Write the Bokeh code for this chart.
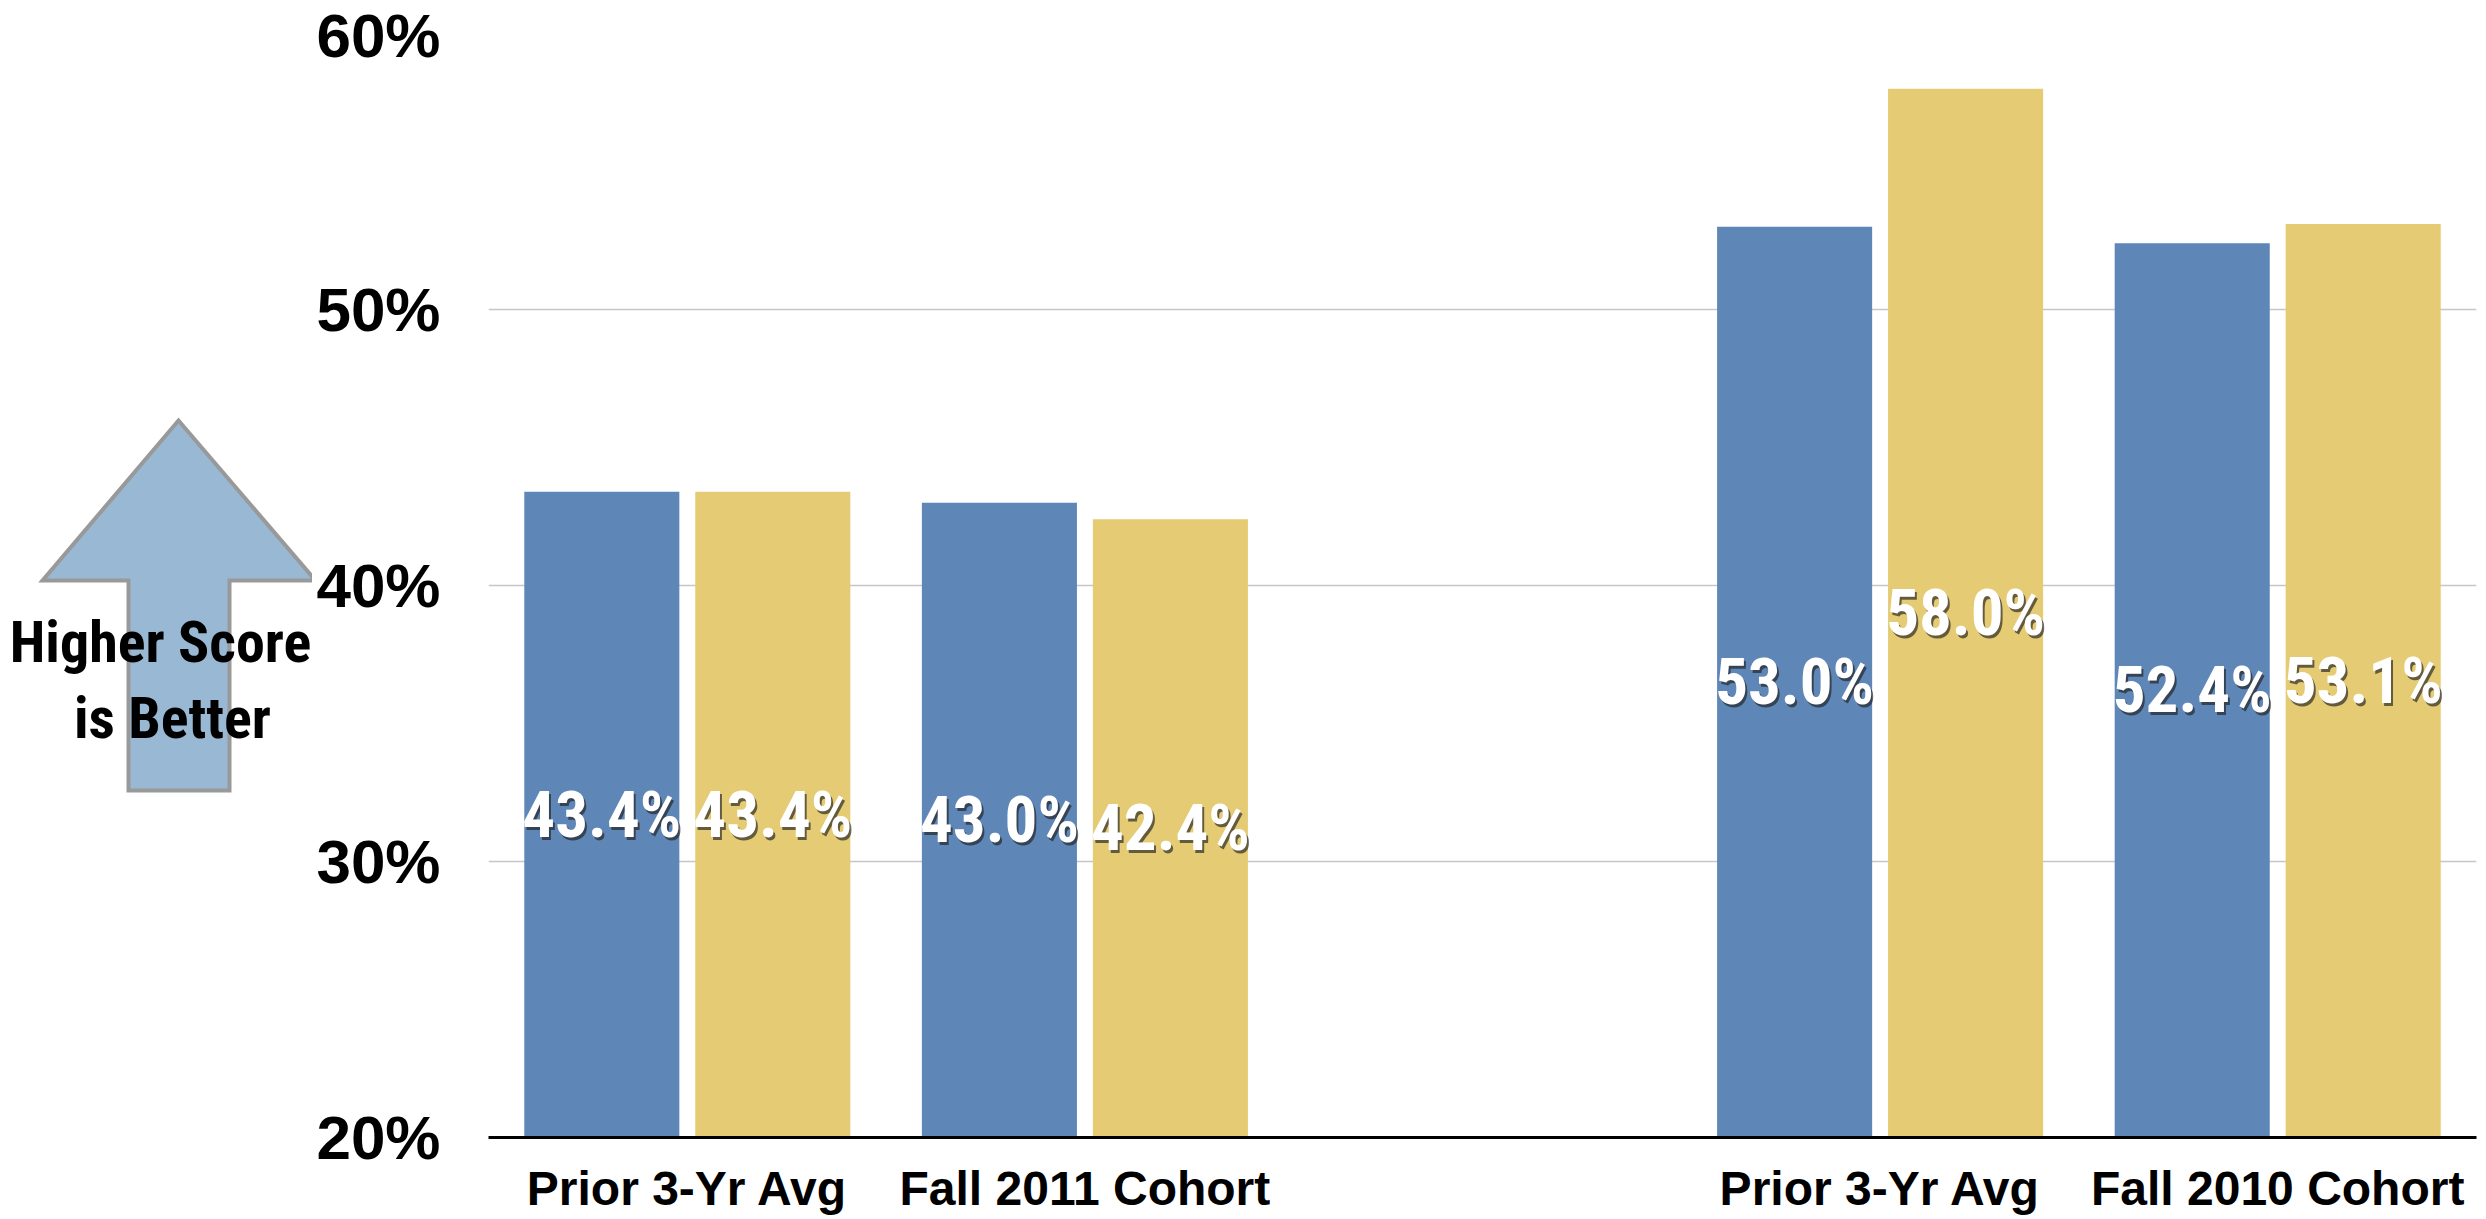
from bokeh.plotting import figure
from bokeh.layouts import row
from bokeh.models import FactorRange, ColumnDataSource, PrintfTickFormatter, Range1d
from bokeh.transform import dodge
from bokeh.core.properties import value
from bokeh.embed import file_html
from bokeh.resources import INLINE

# ---- data ----
groups = ["Fall 2011", "Fall 2011", "Fall 2010", "Fall 2010"]
categories = ["Prior 3-Yr Avg", "Fall 2011 Cohort", "Prior 3-Yr Avg", "Fall 2010 Cohort"]
blue_values = [43.4, 43.0, 53.0, 52.4]
gold_values = [43.4, 42.4, 58.0, 53.1]
y_ticks = [20, 30, 40, 50, 60]
arrow_text = ["Higher Score", "is Better"]

BLUE = "#5e87b8"
GOLD = "#e5cb73"
NARROW = "Noto Sans Condensed, Liberation Sans Narrow, Roboto Condensed, DejaVu Sans Condensed, Liberation Sans"
BASE = y_ticks[0]

TOTAL_W = 2486
H = 1219
LEFT_W = 312
TOP = 33          # frame top (pixels)
BOTTOM_BORDER = 82
FRAME_BOTTOM = H - BOTTOM_BORDER

# ---------------- left panel: "Higher Score is Better" arrow ----------------
# its frame is aligned with the main chart's frame, so use pixel rows as y coordinates
pa = figure(width=LEFT_W, height=H, x_range=Range1d(0, LEFT_W),
            y_range=Range1d(FRAME_BOTTOM, TOP),
            output_backend="svg", toolbar_location=None,
            x_axis_location=None, y_axis_location=None,
            min_border_left=0, min_border_right=0, min_border_top=TOP,
            min_border_bottom=BOTTOM_BORDER,
            outline_line_color=None, background_fill_color="white", border_fill_color="white")
pa.grid.visible = False
pa.patch(x=[178, 315, 229, 229, 128, 128, 42],
         y=[420, 580, 580, 790, 790, 580, 580],
         fill_color="#98b8d3", line_color="#999999", line_width=4, line_join="miter")
pa.text(x=[160, 172], y=[641, 717], text=arrow_text,
        text_font=value(NARROW), text_font_style="bold", text_font_size="58px",
        text_color="black", text_align="center", text_baseline="middle")

# ---------------- main chart ----------------
factors = list(zip(groups, categories))
x_range = FactorRange(factors=factors, factor_padding=0.0, group_padding=1.0, range_padding=0.0)

src = ColumnDataSource(dict(
    x=factors,
    blue=blue_values,
    gold=gold_values,
    blue_mid=[(BASE + v) / 2 for v in blue_values],
    gold_mid=[(BASE + v) / 2 for v in gold_values],
    blue_lbl=[f"{v:.1f}%" for v in blue_values],
    gold_lbl=[f"{v:.1f}%" for v in gold_values],
))

p = figure(x_range=x_range, y_range=Range1d(y_ticks[0], y_ticks[-1]),
           width=TOTAL_W - LEFT_W, height=H, output_backend="svg", toolbar_location=None,
           min_border_left=176, min_border_right=10, min_border_top=TOP,
           min_border_bottom=BOTTOM_BORDER,
           outline_line_color=None, background_fill_color="white", border_fill_color="white")

p.xgrid.visible = False

# y axis
p.yaxis.ticker = y_ticks
p.yaxis.formatter = PrintfTickFormatter(format="%d%%")
p.yaxis.axis_line_color = None
p.yaxis.major_tick_line_color = None
p.yaxis.minor_tick_line_color = None
p.yaxis.major_label_text_font = "Liberation Sans"
p.yaxis.major_label_text_font_style = "bold"
p.yaxis.major_label_text_font_size = "62px"
p.yaxis.major_label_text_color = "black"
p.yaxis.major_label_standoff = 42

p.ygrid.ticker = y_ticks
p.ygrid.grid_line_color = "#c6c6c6"
p.ygrid.grid_line_width = 1.5

# x axis
xa = p.xaxis[0]
xa.axis_line_color = "black"
xa.axis_line_width = 3
xa.major_tick_line_color = None
xa.minor_tick_line_color = None
xa.major_label_text_font = "Liberation Sans"
xa.major_label_text_font_style = "bold"
xa.major_label_text_font_size = "48px"
xa.major_label_text_color = "black"
xa.major_label_standoff = 18
xa.group_text_color = None
xa.separator_line_color = None

OFF = 0.215
W = 0.39
p.vbar(x=dodge("x", -OFF, range=p.x_range), top="blue", bottom=BASE, width=W,
       source=src, fill_color=BLUE, line_color=None)
p.vbar(x=dodge("x", OFF, range=p.x_range), top="gold", bottom=BASE, width=W,
       source=src, fill_color=GOLD, line_color=None)

for off, ycol, tcol in [(-OFF, "blue_mid", "blue_lbl"), (OFF, "gold_mid", "gold_lbl")]:
    # soft drop shadow
    p.text(x=dodge("x", off, range=p.x_range), y=ycol, text=tcol, source=src,
           x_offset=2, y_offset=3, text_color="#1e1e1e", text_alpha=0.65,
           text_font=value(NARROW), text_font_style="bold", text_font_size="65px",
           text_align="center", text_baseline="middle")
    p.text(x=dodge("x", off, range=p.x_range), y=ycol, text=tcol, source=src,
           text_color="white",
           text_font=value(NARROW), text_font_style="bold", text_font_size="65px",
           text_align="center", text_baseline="middle")

layout = row(pa, p, spacing=0)
open("out.html", "w").write(file_html(layout, INLINE))
